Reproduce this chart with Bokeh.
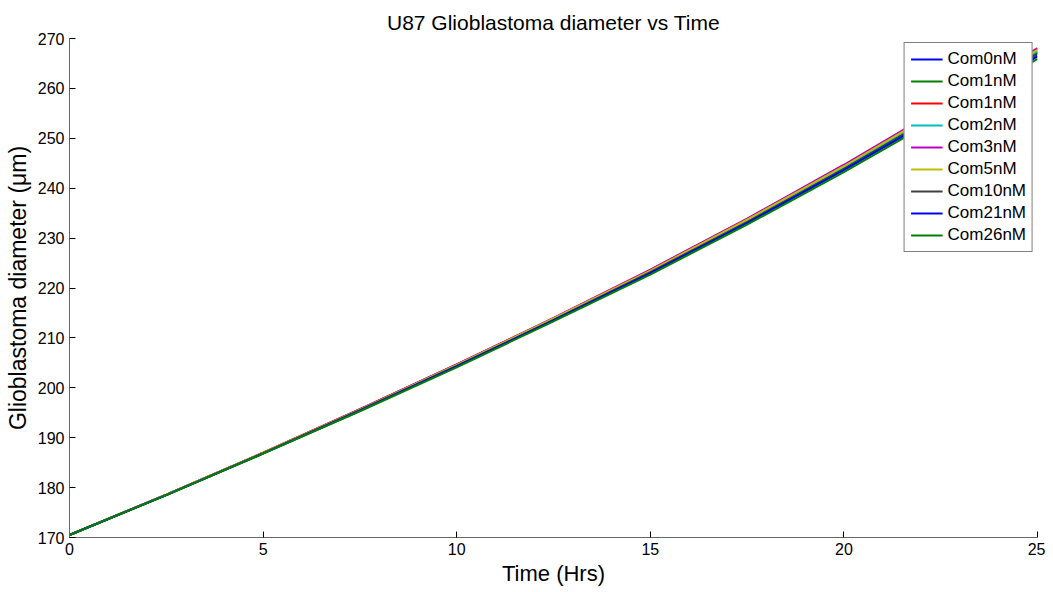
from bokeh.plotting import figure
from bokeh.models import Range1d, FixedTicker, Legend, LegendItem
from bokeh.embed import file_html
from bokeh.resources import INLINE

t_hrs = [0, 2.5, 5, 7.5, 10, 12.5, 15, 17.5, 20, 22.5, 25]

com0nM = [170.5, 178.6, 186.9, 195.5, 204.5, 213.7, 223.3, 233.4, 244.0, 255.3, 267.1]
com1nM_a = [170.5, 178.6, 186.9, 195.6, 204.5, 213.8, 223.4, 233.5, 244.2, 255.5, 267.3]
com1nM_b = [170.5, 178.6, 187.0, 195.7, 204.7, 213.9, 223.6, 233.8, 244.5, 255.9, 267.9]
com2nM = [170.5, 178.6, 186.9, 195.6, 204.6, 213.8, 223.4, 233.6, 244.3, 255.6, 267.5]
com3nM = [170.5, 178.6, 187.0, 195.7, 204.7, 214.0, 223.7, 233.9, 244.7, 256.1, 268.1]
com5nM = [170.5, 178.6, 187.0, 195.6, 204.6, 213.9, 223.5, 233.7, 244.4, 255.8, 267.7]
com10nM = [170.5, 178.5, 186.9, 195.5, 204.4, 213.6, 223.2, 233.2, 243.8, 255.0, 266.8]
com21nM = [170.5, 178.5, 186.8, 195.4, 204.3, 213.5, 223.0, 233.0, 243.6, 254.7, 266.4]
com26nM = [170.5, 178.5, 186.8, 195.3, 204.1, 213.3, 222.7, 232.7, 243.2, 254.3, 265.9]

labels = ["Com0nM", "Com1nM", "Com1nM", "Com2nM", "Com3nM", "Com5nM", "Com10nM", "Com21nM", "Com26nM"]
series = [com0nM, com1nM_a, com1nM_b, com2nM, com3nM, com5nM, com10nM, com21nM, com26nM]
colors = ["#0000ff", "#008000", "#ff0000", "#00bfbf", "#bf00bf", "#bfbf00", "#404040", "#0000ff", "#008000"]

x_ticks = [0, 5, 10, 15, 20, 25]
y_ticks = [170, 180, 190, 200, 210, 220, 230, 240, 250, 260, 270]

FONT = "Liberation Sans"

p = figure(width=1045, height=592, output_backend="svg", toolbar_location=None,
           x_range=Range1d(0, 25), y_range=Range1d(170, 270),
           title="U87 Glioblastoma diameter vs Time",
           min_border_left=69, min_border_right=8, min_border_top=38, min_border_bottom=55)

p.title.align = "center"
p.title.text_font = FONT
p.title.text_font_size = "21px"
p.title.text_font_style = "normal"
p.title.text_color = "black"
p.title.standoff = 10

p.xgrid.visible = False
p.ygrid.visible = False
p.outline_line_color = None
p.background_fill_color = "white"
p.border_fill_color = "white"

p.xaxis.ticker = FixedTicker(ticks=x_ticks)
p.yaxis.ticker = FixedTicker(ticks=y_ticks)
for ax in (p.xaxis[0], p.yaxis[0]):
    ax.axis_line_color = "#666666"
    ax.major_tick_line_color = "black"
    ax.major_tick_in = 6
    ax.major_tick_out = 0
    ax.minor_tick_line_color = None
    ax.major_label_text_font = FONT
    ax.major_label_text_font_size = "16px"
    ax.major_label_text_color = "black"
    ax.axis_label_text_font = FONT
    ax.axis_label_text_font_size = "22px"
    ax.axis_label_text_font_style = "normal"
    ax.axis_label_text_color = "black"

p.yaxis.axis_label_text_font_size = "23px"
p.xaxis.axis_label = "Time (Hrs)"
p.yaxis.axis_label = "Glioblastoma diameter (μm)"
p.xaxis.major_label_standoff = 5
p.xaxis.axis_label_standoff = 3
p.yaxis.major_label_standoff = 5
p.yaxis.axis_label_standoff = 4

items = []
for lab, ys, c in zip(labels, series, colors):
    r = p.line(t_hrs, ys, line_color=c, line_width=2)
    items.append(LegendItem(label=lab, renderers=[r]))

legend = Legend(items=items, location="top_right")
legend.border_line_color = "black"
legend.border_line_width = 1
legend.background_fill_color = "white"
legend.background_fill_alpha = 1.0
legend.label_text_font = FONT
legend.label_text_font_size = "17px"
legend.label_text_color = "black"
legend.glyph_width = 32
legend.glyph_height = 20
legend.label_height = 20
legend.spacing = 2
legend.padding = 6
legend.margin = 4
legend.label_standoff = 5
p.add_layout(legend)

open("out.html", "w").write(file_html(p, INLINE))
